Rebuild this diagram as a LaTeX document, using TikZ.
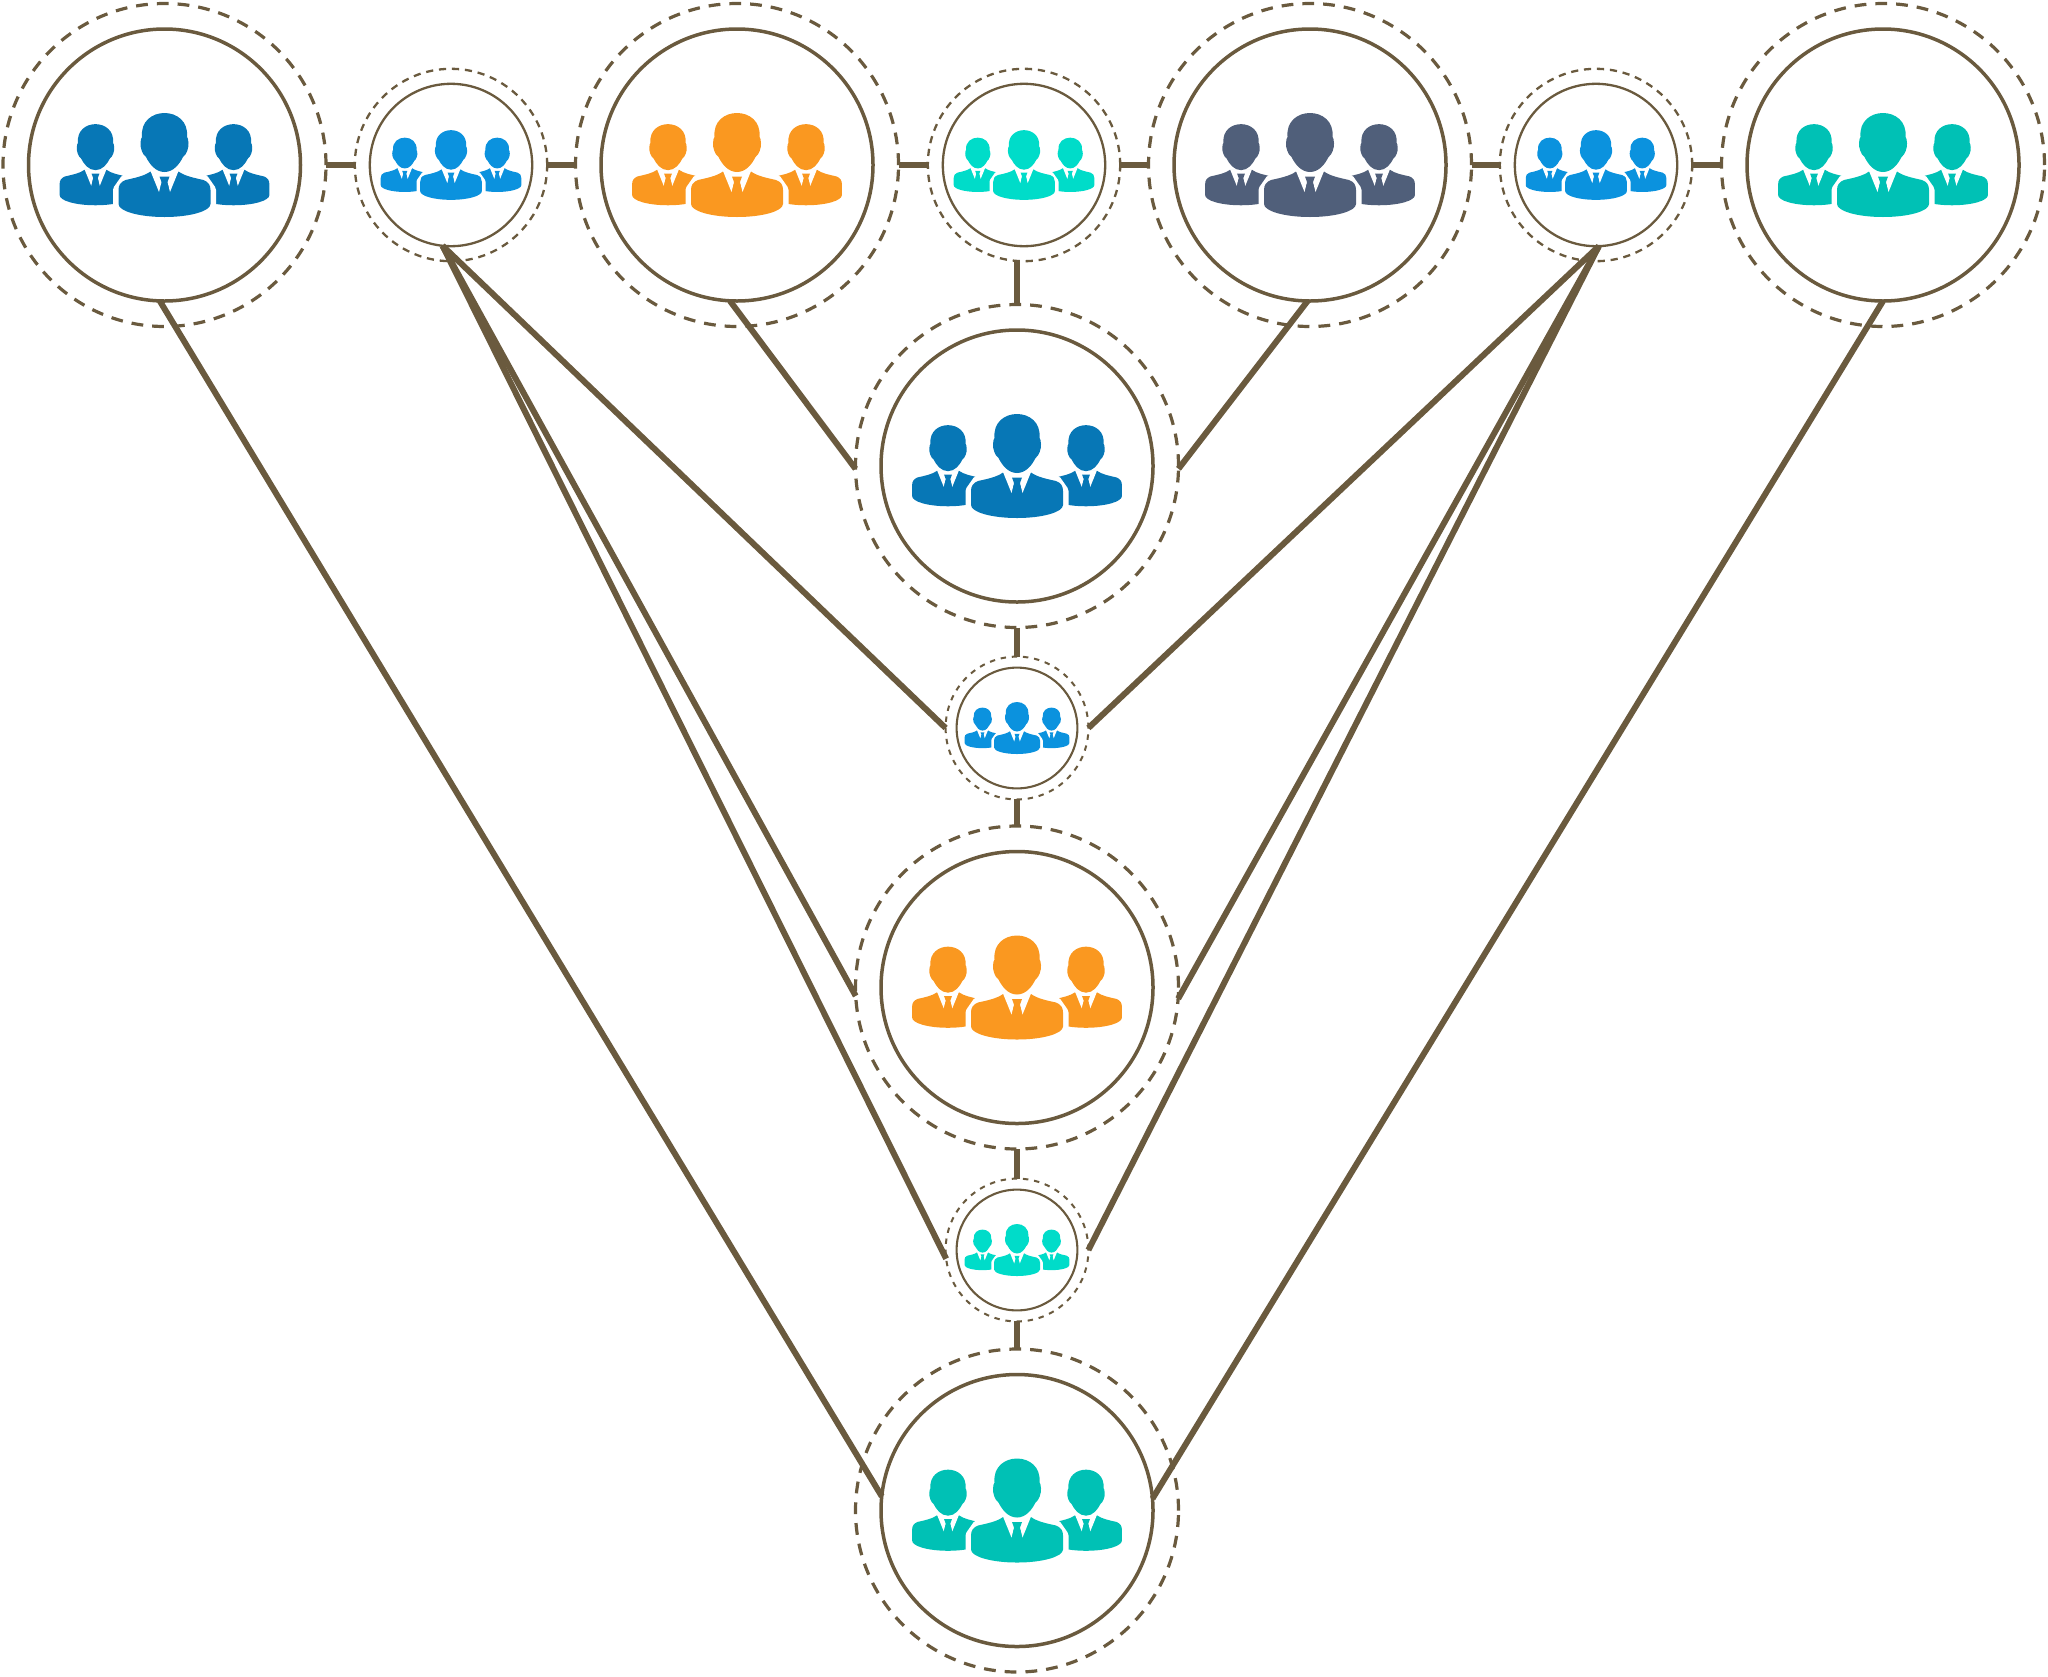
\documentclass[tikz,border=0pt]{standalone}
\definecolor{wire}{RGB}{106,90,62}
\definecolor{cblue}{RGB}{7,119,182}
\definecolor{csky}{RGB}{11,146,222}
\definecolor{corange}{RGB}{250,152,32}
\definecolor{cslate}{RGB}{80,95,122}
\definecolor{cteal}{RGB}{0,193,181}
\definecolor{caqua}{RGB}{0,220,201}
\tikzset{
  ringbase/.style={circle,draw=wire,inner sep=0pt,outer sep=0pt},
  bigring/.style={ringbase,minimum size=136pt,line width=1.75pt},
  bigdash/.style={ringbase,minimum size=161.5pt,line width=1.6pt,dash pattern=on 5.9pt off 4.5pt},
  midring/.style={ringbase,minimum size=81.2pt,line width=1.15pt},
  middash/.style={ringbase,minimum size=96.2pt,line width=1.15pt,dash pattern=on 3.6pt off 2.9pt},
  miniring/.style={ringbase,minimum size=60.4pt,line width=1.05pt},
  minidash/.style={ringbase,minimum size=71.4pt,line width=1pt,dash pattern=on 2.7pt off 2.9pt},
  wirelink/.style={draw=wire,line width=3pt,line cap=butt},
}
\newcommand{\oneperson}{%
  \fill[iconcol] (-14,6.5) .. controls (-20,11) and (-30,13) .. (-39,15) .. controls (-44,17) and (-46,20) .. (-46,25) -- (-46,39) .. controls (-46,46) and (-26,52) .. (0,52) .. controls (26,52) and (46,46) .. (46,39) -- (46,25) .. controls (46,20) and (44,17) .. (39,15) .. controls (30,13) and (20,11) .. (14,6.5) -- cycle;
  \fill[white] (-14,6) -- (-5.5,27) -- (-3.5,19) -- (3.5,19) -- (5.5,27) -- (14,6) -- cycle;
  \fill[iconcol] (-5,11.5) -- (5,11.5) -- (3,17) -- (5,29) -- (-5,29) -- (-3,17) -- cycle;
  \fill[iconcol] (0,7) .. controls (-9,7) and (-15,-1) .. (-18.5,-8) .. controls (-22,-10) and (-24.5,-18) .. (-24,-22) .. controls (-24,-25) and (-23,-28) .. (-22.5,-28) .. controls (-24,-44) and (-12,-52) .. (0,-52) .. controls (12,-52) and (24,-44) .. (22.5,-28) .. controls (23,-28) and (24,-25) .. (24,-22) .. controls (24.5,-18) and (22,-10) .. (18.5,-8) .. controls (15,-1) and (9,7) .. (0,7) -- cycle;
}
\newcommand{\peopleicon}[3]{% node, scale, colour
  \begin{scope}[shift={(#1.center)},scale=#2]
    \colorlet{iconcol}{#3}
    \begin{scope}[shift={(-69,-0.3)},scale=.78]\oneperson\end{scope}
    \begin{scope}[shift={(69,-0.3)},scale=.78]\oneperson\end{scope}
    \draw[white,line width=#2*5.5pt,line join=round] (-14,6.5) -- (-39,15) -- (-46,25) -- (-46,39) .. controls (-46,46) and (-26,52) .. (0,52) .. controls (26,52) and (46,46) .. (46,39) -- (46,25) -- (39,15) -- (14,6.5);
    \oneperson
  \end{scope}%
}
\begin{document}
\begin{tikzpicture}[x=.5pt,y=-.5pt]
\useasboundingbox (0,0) rectangle (2048,1676);
% outer and inner rings
\node[bigdash] (t1) at (164.5,165) {}; \node[bigring] (t1i) at (164.5,165) {};
\node[middash] (t2) at (451,165) {};   \node[midring] (t2i) at (451,165) {};
\node[bigdash] (t3) at (737,165) {};   \node[bigring] (t3i) at (737,165) {};
\node[middash] (t4) at (1024,165) {};  \node[midring] (t4i) at (1024,165) {};
\node[bigdash] (t5) at (1310,165) {};  \node[bigring] (t5i) at (1310,165) {};
\node[middash] (t6) at (1596,165) {};  \node[midring] (t6i) at (1596,165) {};
\node[bigdash] (t7) at (1883,165) {};  \node[bigring] (t7i) at (1883,165) {};
\node[bigdash] (c1) at (1017,466) {};  \node[bigring] (c1i) at (1017,466) {};
\node[minidash] (c2) at (1017,728) {}; \node[miniring] (c2i) at (1017,728) {};
\node[bigdash] (c3) at (1017,987.5) {};  \node[bigring] (c3i) at (1017,987.5) {};
\node[minidash] (c4) at (1017,1250) {};\node[miniring] (c4i) at (1017,1250) {};
\node[bigdash] (c5) at (1017,1510.5) {}; \node[bigring] (c5i) at (1017,1510.5) {};
% horizontal links
\draw[wirelink] (t1.east) -- (t2.west);
\draw[wirelink] (t2.east) -- (t3.west);
\draw[wirelink] (t3.east) -- (t4.west);
\draw[wirelink] (t4.east) -- (t5.west);
\draw[wirelink] (t5.east) -- (t6.west);
\draw[wirelink] (t6.east) -- (t7.west);
% vertical links
\draw[wirelink] (c1.north |- t4.south) -- (c1.north);
\draw[wirelink] (c1.south) -- (c2.north);
\draw[wirelink] (c2.south) -- (c3.north);
\draw[wirelink] (c3.south) -- (c4.north);
\draw[wirelink] (c4.south) -- (c5.north);
% long diagonals
\draw[wirelink] (t1i.268) -- (c5i.174.6);
\draw[wirelink] (t7i.270) -- (c5i.5.4);
\draw[wirelink] (t3i.267.5) -- (c1.181);
\draw[wirelink] (t5i.269) -- (c1.359);
\draw[wirelink] (t2i.264.4) -- (c2.west);
\draw[wirelink] (t2i.264.4) -- (c3.183.5);
\draw[wirelink] (t2i.264.4) -- (c4.187);
\draw[wirelink] (t6i.272.8) -- (c2.east);
\draw[wirelink] (t6i.272.8) -- (c3.356.5);
\draw[wirelink] (t6i.272.8) -- (c4.east);
% icons
\peopleicon{t1}{1}{cblue}
\peopleicon{t2}{.67}{csky}
\peopleicon{t3}{1}{corange}
\peopleicon{t4}{.67}{caqua}
\peopleicon{t5}{1}{cslate}
\peopleicon{t6}{.67}{csky}
\peopleicon{t7}{1}{cteal}
\peopleicon{c1}{1}{cblue}
\peopleicon{c2}{.5}{csky}
\peopleicon{c3}{1}{corange}
\peopleicon{c4}{.5}{caqua}
\peopleicon{c5}{1}{cteal}
\end{tikzpicture}
\end{document}
